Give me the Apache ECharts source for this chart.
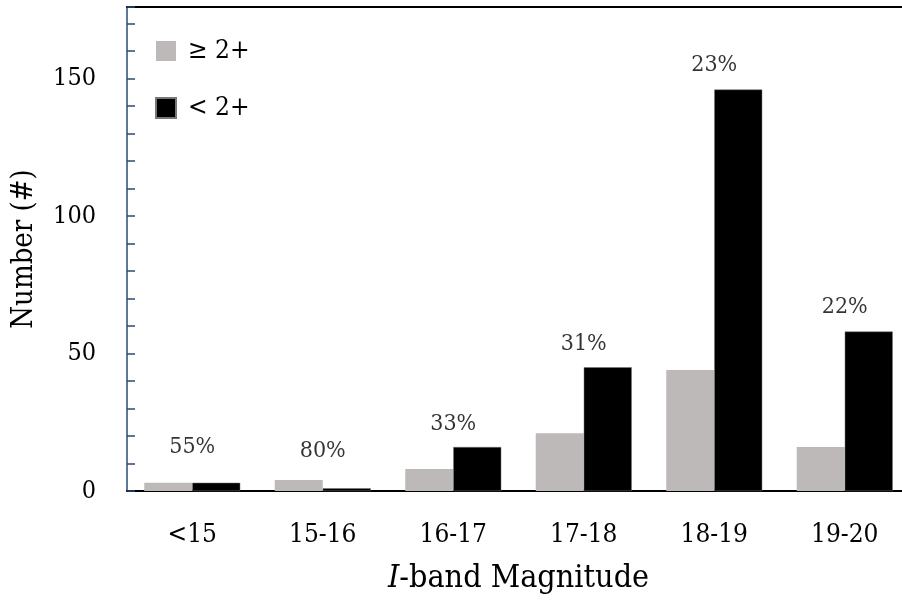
<!DOCTYPE html>
<html>
<head>
<meta charset="utf-8">
<script src="https://cdn.jsdelivr.net/npm/echarts@6/dist/echarts.min.js"></script>
<style>
  html, body { margin: 0; padding: 0; background: #fff; }
  /* the plot area runs a few pixels past the right edge of the frame */
  #frame { width: 902px; height: 600px; overflow: hidden; position: relative; }
  #chart { width: 910px; height: 600px; position: absolute; left: 0; top: 0; }
</style>
</head>
<body>
<div id="frame"><div id="chart"></div></div>
<script>
// Magnitude bins
const categories = ['<15', '15-16', '16-17', '17-18', '18-19', '19-20'];
// Counts per bin
const highQuality = [3, 4, 8, 21, 44, 16];   // ≥ 2+
const lowQuality = [3, 1, 16, 45, 146, 58];  // < 2+
// Fraction labels and the height at which each is written
const pctLabels = ['55%', '80%', '33%', '31%', '23%', '22%'];
const pctHeights = [16, 14.5, 24.5, 53.5, 155, 67];

const serif = '"DejaVu Serif Condensed", "DejaVu Serif", serif';

const chart = echarts.init(document.getElementById('chart'));
chart.setOption({
  animation: false,
  backgroundColor: '#fff',
  textStyle: { fontFamily: serif, color: '#000' },
  grid: { left: 127, top: 7, right: 0, bottom: 107 },
  legend: {
    orient: 'vertical',
    left: 155,
    top: 38,
    padding: 0,
    itemWidth: 20,
    itemHeight: 20,
    itemGap: 31,
    textStyle: { fontFamily: serif, fontSize: 26, lineHeight: 20, color: '#000', padding: [0, 0, 0, 7] },
    data: [
      { name: '≥ 2+', icon: 'rect' },
      { name: '< 2+', icon: 'rect' }
    ]
  },
  xAxis: [
    {
      type: 'category',
      data: categories,
      axisLine: { lineStyle: { color: '#000', width: 2 } },
      axisTick: { show: false },
      axisLabel: { fontFamily: serif, fontSize: 26, color: '#000', margin: 31 },
      name: '{i|I}-band Magnitude',
      nameLocation: 'middle',
      nameGap: 72,
      nameTextStyle: {
        fontFamily: serif, fontSize: 32, color: '#000',
        rich: { i: { fontFamily: serif, fontSize: 32, fontStyle: 'italic', color: '#000' } }
      }
    },
    {
      type: 'category',
      position: 'top',
      data: categories,
      axisLine: { lineStyle: { color: '#000', width: 2 } },
      axisTick: { show: false },
      axisLabel: { show: false }
    }
  ],
  yAxis: {
    type: 'value',
    min: 0,
    max: 176,
    interval: 10,
    axisLine: { show: true, lineStyle: { color: '#2b4a78', width: 1.5 } },
    axisTick: { show: true, inside: true, length: 8, lineStyle: { color: '#2b4a78', width: 1.5 } },
    splitLine: { show: false },
    axisLabel: {
      fontFamily: serif, fontSize: 25, color: '#000', margin: 31,
      formatter: v => (v % 50 === 0 ? String(v) : '')
    },
    name: 'Number (#)',
    nameLocation: 'middle',
    nameGap: 88,
    nameTextStyle: { fontFamily: serif, fontSize: 29, color: '#000' }
  },
  series: [
    {
      name: '≥ 2+',
      type: 'bar',
      data: highQuality,
      barWidth: 48,
      barGap: '0%',
      itemStyle: { color: '#bdb9b8' }
    },
    {
      name: '< 2+',
      type: 'bar',
      data: lowQuality,
      barWidth: 48,
      barGap: '0%',
      itemStyle: { color: '#000', borderColor: '#777', borderWidth: 0.5 }
    },
    {
      type: 'scatter',
      xAxisIndex: 0,
      data: pctHeights,
      symbolSize: 0,
      silent: true,
      label: {
        show: true,
        position: 'inside',
        fontFamily: serif,
        fontSize: 23,
        color: '#000',
        formatter: p => pctLabels[p.dataIndex]
      }
    }
  ]
});
</script>
</body>
</html>
